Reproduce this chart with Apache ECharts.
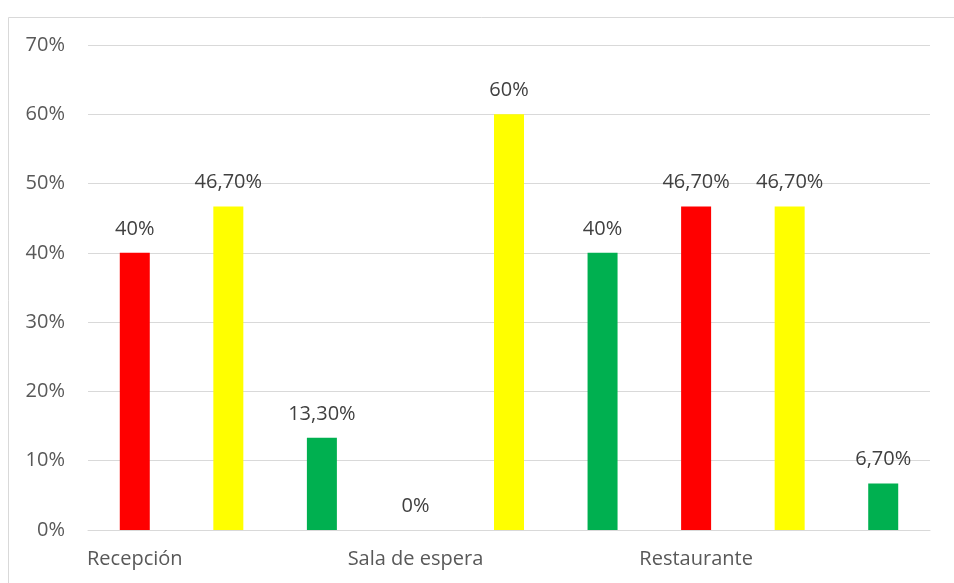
<!DOCTYPE html>
<html>
<head>
<meta charset="utf-8">
<style>
  html, body { margin: 0; padding: 0; background: #ffffff; }
  #chart { width: 954px; height: 583px; }
</style>
<script src="https://cdn.jsdelivr.net/npm/echarts@6/dist/echarts.min.js"></script>
</head>
<body>
<div id="chart"></div>
<script>
// Areas and the share of ratings in each colour band (percent)
const categories = ['Recepción', 'Sala de espera', 'Restaurante'];
const redValues = [40, 0, 46.7];
const yellowValues = [46.7, 60, 46.7];
const greenValues = [13.3, 40, 6.7];
const yTicks = [0, 10, 20, 30, 40, 50, 60, 70];

const bandColors = ['#FF0000', '#FFFF00', '#00B050'];
const bands = [redValues, yellowValues, greenValues];

// Flatten into one slot per bar: red, yellow, green for each area
const slots = [];
const barData = [];
categories.forEach((name, ci) => {
  bands.forEach((vals, bi) => {
    slots.push(bi === 0 ? name : '');
    barData.push({ value: vals[ci], itemStyle: { color: bandColors[bi] } });
  });
});

function pct(v) {
  if (Number.isInteger(v)) return v + '%';
  return v.toFixed(2).replace('.', ',') + '%';
}

const chart = echarts.init(document.getElementById('chart'), null, { renderer: 'canvas' });
const font = '"Open Sans", "Liberation Sans", sans-serif';
chart.setOption({
  animation: false,
  backgroundColor: '#ffffff',
  graphic: [{
    type: 'rect',
    shape: { x: 8.5, y: 17.5, width: 1000, height: 700 },
    style: { fill: 'none', stroke: '#d9d9d9', lineWidth: 1 },
    silent: true
  }],
  grid: { left: 88, right: 24, top: 45, bottom: 53, containLabel: false },
  xAxis: {
    type: 'category',
    data: slots,
    axisLine: { show: true, lineStyle: { color: '#d9d9d9', width: 1 } },
    axisTick: { show: false },
    axisLabel: {
      interval: 0,
      color: '#595959',
      fontSize: 20,
      fontFamily: font,
      margin: 19
    }
  },
  yAxis: {
    type: 'value',
    min: yTicks[0],
    max: yTicks[yTicks.length - 1],
    interval: 10,
    axisLine: { show: false },
    axisTick: { show: false },
    splitLine: { lineStyle: { color: '#d9d9d9', width: 1 } },
    axisLabel: {
      formatter: '{value}%',
      color: '#595959',
      fontSize: 20,
      fontFamily: font,
      margin: 23
    }
  },
  series: [{
    type: 'bar',
    data: barData,
    barWidth: 30,
    label: {
      show: true,
      position: 'top',
      distance: 14,
      color: '#404040',
      fontSize: 20,
      fontFamily: font,
      formatter: p => pct(p.value)
    }
  }]
});
</script>
</body>
</html>
